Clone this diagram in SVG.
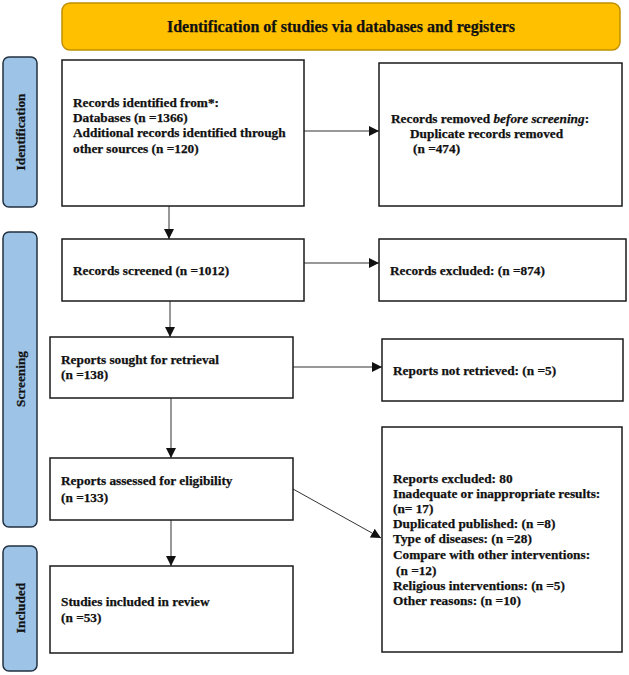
<svg xmlns="http://www.w3.org/2000/svg" width="629" height="675" viewBox="0 0 629 675">
<style>
  text { font-family: "Liberation Serif", "Times New Roman", serif; font-weight: bold; font-size: 13.3px; fill: #111; stroke: #111; stroke-width: 0.25; }
  .title { font-size: 16px; }
  .box { fill: #fff; stroke: #1a1a1a; stroke-width: 1.5; }
  .side { fill: #9DC3E6; stroke: #22313f; stroke-width: 1.5; }
  .conn { stroke: #333; stroke-width: 1; fill: none; marker-end: url(#arr); }
</style>
<defs>
  <marker id="arr" viewBox="0 0 10 10" refX="10" refY="5" markerWidth="10" markerHeight="10" markerUnits="userSpaceOnUse" orient="auto">
    <path d="M0,0 L10,5 L0,10 z" fill="#111"/>
  </marker>
</defs>
<rect width="629" height="675" fill="#fff"/>

<g id="title">
  <rect x="62" y="3" width="558" height="47" rx="8" fill="#FFC000" stroke="#C09000" stroke-width="1.5"/>
  <text class="title" x="341" y="32" text-anchor="middle">Identification of studies via databases and registers</text>
</g>

<g id="side-identification">
  <rect class="side" x="3" y="57" width="34" height="150" rx="6"/>
  <text transform="translate(25,132) rotate(-90)" text-anchor="middle">Identification</text>
</g>
<g id="side-screening">
  <rect class="side" x="3" y="232" width="34" height="295" rx="6"/>
  <text transform="translate(25,379) rotate(-90)" text-anchor="middle">Screening</text>
</g>
<g id="side-included">
  <rect class="side" x="3" y="546" width="34" height="125" rx="6"/>
  <text transform="translate(25,608) rotate(-90)" text-anchor="middle">Included</text>
</g>

<g id="connectors">
  <line class="conn" x1="169" y1="206" x2="169" y2="239"/>
  <line class="conn" x1="304" y1="131" x2="379" y2="131"/>
  <line class="conn" x1="170" y1="301" x2="170" y2="337"/>
  <line class="conn" x1="304" y1="263" x2="379" y2="263"/>
  <line class="conn" x1="171" y1="398" x2="171" y2="458"/>
  <line class="conn" x1="293" y1="367" x2="382" y2="367"/>
  <line class="conn" x1="171" y1="520" x2="171" y2="566"/>
  <line class="conn" x1="293" y1="489" x2="381" y2="538"/>
</g>

<g id="records-identified">
  <rect class="box" x="62" y="60" width="242" height="146"/>
  <text x="73" y="107">Records identified from*:</text>
  <text x="73" y="122">Databases (n =1366)</text>
  <text x="73" y="137">Additional records identified through</text>
  <text x="73" y="153">other sources (n =120)</text>
</g>

<g id="records-removed">
  <rect class="box" x="379" y="63" width="243" height="143"/>
  <text x="391" y="123">Records removed <tspan font-style="italic">before screening</tspan>:</text>
  <text x="410" y="138">Duplicate records removed</text>
  <text x="413" y="153">(n =474)</text>
</g>

<g id="records-screened">
  <rect class="box" x="62" y="239" width="242" height="62"/>
  <text x="73" y="275">Records screened (n =1012)</text>
</g>

<g id="records-excluded">
  <rect class="box" x="379" y="239" width="247" height="62"/>
  <text x="390" y="275">Records excluded: (n =874)</text>
</g>

<g id="reports-sought">
  <rect class="box" x="50" y="337" width="243" height="61"/>
  <text x="61" y="364">Reports sought for retrieval</text>
  <text x="61" y="379">(n =138)</text>
</g>

<g id="reports-not-retrieved">
  <rect class="box" x="382" y="339" width="241" height="62"/>
  <text x="393" y="375">Reports not retrieved: (n =5)</text>
</g>

<g id="reports-assessed">
  <rect class="box" x="50" y="458" width="243" height="62"/>
  <text x="61" y="485">Reports assessed for eligibility</text>
  <text x="61" y="502">(n =133)</text>
</g>

<g id="reports-excluded">
  <rect class="box" x="382" y="427" width="240" height="225"/>
  <text x="393" y="483">Reports excluded: 80</text>
  <text x="393" y="498">Inadequate or inappropriate results:</text>
  <text x="393" y="513">(n= 17)</text>
  <text x="393" y="528">Duplicated published: (n =8)</text>
  <text x="393" y="543">Type of diseases: (n =28)</text>
  <text x="393" y="559">Compare with other interventions:</text>
  <text x="396" y="575">(n =12)</text>
  <text x="393" y="590">Religious interventions: (n =5)</text>
  <text x="393" y="605">Other reasons: (n =10)</text>
</g>

<g id="studies-included">
  <rect class="box" x="50" y="566" width="243" height="87"/>
  <text x="61" y="606">Studies included in review</text>
  <text x="61" y="622">(n =53)</text>
</g>
</svg>
